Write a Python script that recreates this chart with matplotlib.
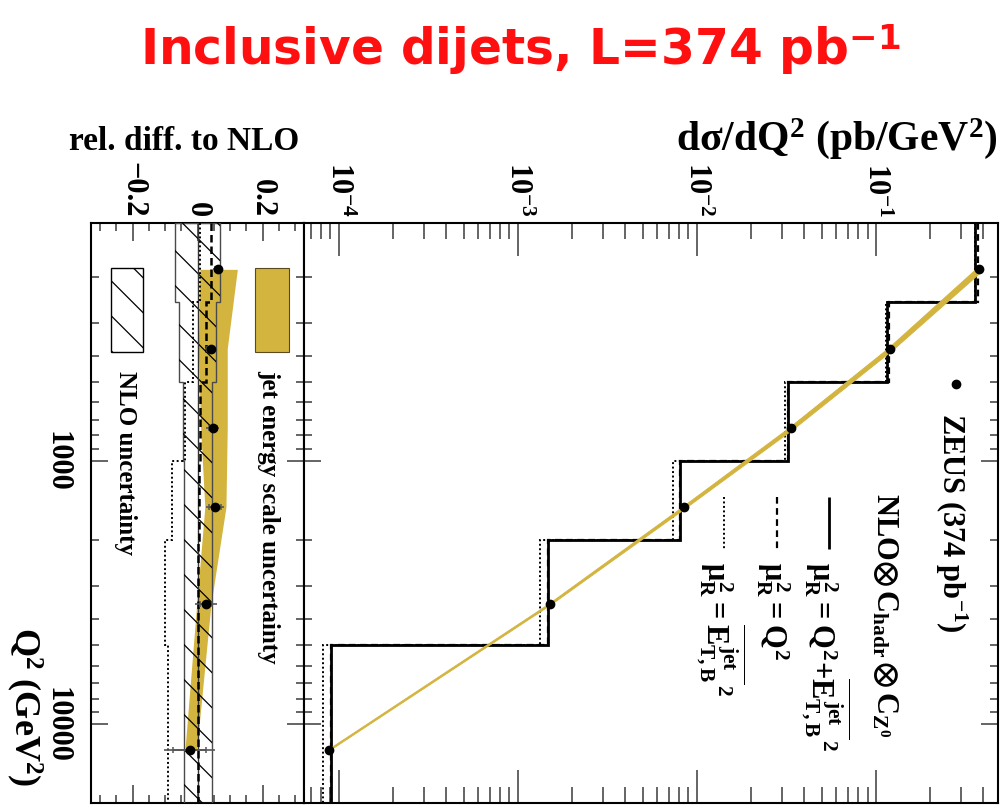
import numpy as np
import matplotlib
matplotlib.use("Agg")
import matplotlib.pyplot as plt
from matplotlib.patches import Polygon, Rectangle
from matplotlib.lines import Line2D
from matplotlib.ticker import FixedLocator, NullFormatter, MultipleLocator, LogLocator

plt.rcParams.update({
    "font.family": ["Liberation Serif", "DejaVu Serif"],
    "font.weight": "bold",
    "mathtext.fontset": "custom",
    "mathtext.rm": "Liberation Serif:bold",
    "mathtext.it": "Liberation Serif:bold",
    "mathtext.bf": "Liberation Serif:bold",
    "mathtext.sf": "DejaVu Sans:bold",
    "mathtext.fallback": "stix",
    "axes.linewidth": 1.5,
})

# ---- data -------------------------------------------------------------
q2_edges = [125, 250, 500, 1000, 2000, 5000, 20000]          # GeV^2
q2_points = [187.5, 375, 750, 1500, 3500, 12500]              # bin centres
xsec_zeus = [0.379, 0.1203, 0.0337, 0.00849, 0.001516, 8.79e-5]   # pb/GeV^2
xsec_nlo = [0.3565, 0.1157, 0.03222, 0.008055, 0.001479, 9.01e-5]
stat_err = [0.008, 0.010, 0.012, 0.018, 0.018, 0.052]          # relative
tot_err = [0.015, 0.018, 0.019, 0.027, 0.033, 0.081]           # relative
scale_q2 = [0.041, 0.027, 0.007, 0.004, 0.002, 0.002]          # mu_R^2 = Q^2
scale_et = [0.007, -0.014, -0.039, -0.080, -0.101, -0.090]     # mu_R^2 = ET^2
nlo_unc_dn = [-0.070, -0.057, -0.044, -0.043, -0.043, -0.043]
nlo_unc_up = [0.069, 0.055, 0.044, 0.043, 0.043, 0.043]
jes_dn = [0.007, 0.002, 0.009, 0.022, -0.003, -0.039]
jes_up = [0.122, 0.091, 0.091, 0.087, 0.041, -0.003]

xsec_ticks = [1e-4, 1e-3, 1e-2, 1e-1]
xsec_ticklabels = [r"$10^{-4}$", r"$10^{-3}$", r"$10^{-2}$", r"$10^{-1}$"]
rel_ticks = [-0.2, 0.0, 0.2]
rel_ticklabels = ["\u22120.2", "0", "0.2"]
q2_ticks = [1000, 10000]
q2_ticklabels = ["1000", "10000"]

GOLD = "#D3B43F"
TICKC = "#3a3a3a"

# ---- figure -------------------------------------------------------------
W, H = 1007, 812
fig = plt.figure(figsize=(W / 100, H / 100), dpi=100)


def box(l, r, t, b):
    return [l / W, 1 - b / H, (r - l) / W, (b - t) / H]


def fxy(x, y):
    return x / W, 1 - y / H


ax_r = fig.add_axes(box(90.7, 304.3, 224, 804.3))
ax_m = fig.add_axes(box(304.3, 998.3, 224, 804.3))

nlo = np.array(xsec_nlo)
data = np.array(xsec_zeus)
ratio = data / nlo
rel = ratio - 1

# ---- main panel: cross section vs Q^2 ------------------------------------
ax_m.set_xscale("log")
ax_m.set_yscale("log")
ax_m.set_xlim(6.43e-5, 0.484)
ax_m.set_ylim(20000, 125)

ax_m.stairs(nlo, q2_edges, orientation="horizontal", baseline=None,
            color="black", lw=2.0, zorder=3)
ax_m.stairs(nlo * (1 + np.array(scale_q2)), q2_edges, orientation="horizontal",
            baseline=None, color="black", lw=1.6, ls=(0, (3, 2)), zorder=3)
ax_m.stairs(nlo * (1 + np.array(scale_et)), q2_edges, orientation="horizontal",
            baseline=None, color="black", lw=1.4, ls=(0, (1, 1.3)), zorder=3)
ax_m.fill_betweenx(q2_points, nlo * (1 + np.array(jes_dn)), nlo * (1 + np.array(jes_up)),
                   color=GOLD, lw=0.6, edgecolor=GOLD, zorder=4)
ax_m.plot(data, q2_points, "o", ms=6, color="black", zorder=6)

ax_m.xaxis.set_major_locator(FixedLocator(xsec_ticks))
ax_m.set_xticks(xsec_ticks, labels=xsec_ticklabels)
ax_m.xaxis.set_minor_locator(LogLocator(base=10, subs=np.arange(2, 10), numticks=30))
ax_m.xaxis.set_minor_formatter(NullFormatter())
ax_m.tick_params(axis="x", which="both", direction="in", top=True, bottom=True,
                 labeltop=True, labelbottom=False, color=TICKC, width=1.1)
ax_m.tick_params(axis="x", which="major", length=23.8, pad=5, labelsize=22,
                 labelrotation=-90)
ax_m.tick_params(axis="x", which="minor", length=11.5)

ax_m.yaxis.set_major_locator(FixedLocator(q2_ticks))
ax_m.yaxis.set_major_formatter(NullFormatter())
ax_m.yaxis.set_minor_locator(LogLocator(base=10, subs=np.arange(2, 10), numticks=30))
ax_m.yaxis.set_minor_formatter(NullFormatter())
ax_m.tick_params(axis="y", which="both", direction="in", left=True, right=True,
                 labelleft=False, color=TICKC, width=1.1)
ax_m.tick_params(axis="y", which="major", length=12.2)
ax_m.tick_params(axis="y", which="minor", length=5.8)

# ---- ratio panel: relative difference to NLO ----------------------------------
ax_r.set_yscale("log")
ax_r.set_ylim(20000, 125)
ax_r.set_xlim(-0.329, 0.328)

ax_r.fill_betweenx(q2_points, jes_dn, jes_up, color=GOLD, lw=0, zorder=1)

band = []
for i in range(len(nlo_unc_dn)):
    band += [(nlo_unc_dn[i], q2_edges[i]), (nlo_unc_dn[i], q2_edges[i + 1])]
for i in reversed(range(len(nlo_unc_up))):
    band += [(nlo_unc_up[i], q2_edges[i + 1]), (nlo_unc_up[i], q2_edges[i])]
band_patch = Polygon(band, closed=True, facecolor="none", edgecolor="#4a4a4a",
                     lw=1.0, zorder=3)
ax_r.add_patch(band_patch)


def hatch(ax, clip, spacing=35.0, phase=7.0, zorder=3):
    """Diagonal hatch lines (upper left to lower right) clipped to a patch."""
    pos = ax.get_position()
    wpx, hpx = pos.width * W, pos.height * H
    n = int((wpx + hpx) / spacing) + 3
    for k in range(n):
        y0 = (k * spacing + phase) / hpx
        ln = Line2D([0, 1], [y0, y0 - wpx / hpx], transform=ax.transAxes,
                    color="black", lw=0.9, zorder=zorder)
        ax.add_line(ln)
        ln.set_clip_path(clip)


hatch(ax_r, band_patch)

zeros = np.zeros(len(nlo))
ax_r.stairs(zeros, q2_edges, orientation="horizontal", baseline=None,
            color="#333333", lw=1.0, zorder=3)
ax_r.stairs(scale_q2, q2_edges, orientation="horizontal", baseline=None,
            color="black", lw=1.8, ls=(0, (3, 1.6)), zorder=4)
ax_r.stairs(scale_et, q2_edges, orientation="horizontal", baseline=None,
            color="black", lw=1.4, ls=(0, (1, 1.3)), zorder=4)

ax_r.errorbar(rel, q2_points, xerr=ratio * np.array(tot_err), fmt="none",
              ecolor="#555555", elinewidth=1.2, capsize=0, zorder=5)
ax_r.errorbar(rel, q2_points, xerr=ratio * np.array(stat_err), fmt="none",
              ecolor="#555555", elinewidth=1.2, capsize=2.5, capthick=1.1, zorder=5)
ax_r.plot(rel, q2_points, "o", ms=6, color="black", zorder=6)

ax_r.set_xticks(rel_ticks, labels=rel_ticklabels)
ax_r.xaxis.set_minor_locator(MultipleLocator(0.05))
ax_r.tick_params(axis="x", which="both", direction="in", top=True, bottom=True,
                 labeltop=True, labelbottom=False, color=TICKC, width=1.1)
ax_r.tick_params(axis="x", which="major", length=12.7, pad=5, labelsize=22,
                 labelrotation=-90)
ax_r.tick_params(axis="x", which="minor", length=5.8)

ax_r.yaxis.set_major_locator(FixedLocator(q2_ticks))
ax_r.set_yticks(q2_ticks, labels=q2_ticklabels)
ax_r.yaxis.set_minor_locator(LogLocator(base=10, subs=np.arange(2, 10), numticks=30))
ax_r.yaxis.set_minor_formatter(NullFormatter())
ax_r.tick_params(axis="y", which="both", direction="in", left=True, right=True,
                 labelleft=True, color=TICKC, width=1.1)
ax_r.tick_params(axis="y", which="major", length=12.0, pad=13.7, labelsize=22,
                 labelrotation=-90)
ax_r.tick_params(axis="y", which="minor", length=6.0)
for lbl in ax_r.get_yticklabels():
    lbl.set_verticalalignment("center")


# legend of the ratio panel
def ax_frac(ax, x, y):
    pos = ax.get_position()
    return ((x / W - pos.x0) / pos.width, ((1 - y / H) - pos.y0) / pos.height)


x0, y0 = ax_frac(ax_r, 255, 353.4)
x1, y1 = ax_frac(ax_r, 289.3, 268.9)
ax_r.add_patch(Rectangle((x0, y0), x1 - x0, y1 - y0, transform=ax_r.transAxes,
                         facecolor=GOLD, edgecolor="#5a4a20", lw=0.8, zorder=5))
x0, y0 = ax_frac(ax_r, 110.7, 353.4)
x1, y1 = ax_frac(ax_r, 143.3, 268.9)
hbox = Rectangle((x0, y0), x1 - x0, y1 - y0, transform=ax_r.transAxes,
                 facecolor="white", edgecolor="black", lw=1.0, zorder=5)
ax_r.add_patch(hbox)
hatch(ax_r, hbox, phase=18.0, zorder=6)

fig.text(*fxy(269, 370), "jet energy scale uncertainty", rotation=-90,
         ha="center", va="top", fontsize=18)
fig.text(*fxy(125, 371), "NLO uncertainty", rotation=-90,
         ha="center", va="top", fontsize=18)

# ---- legend of the main panel ---------------------------------------------------
fig.add_artist(Line2D([956 / W], [1 - 385 / H], marker="o", ms=6, color="black"))
fig.text(*fxy(951, 413), r"ZEUS (374 pb$^{-1}$)", rotation=-90,
         ha="center", va="top", fontsize=22)
fig.text(*fxy(884, 493),
         r"$\mathrm{NLO}{\otimes}\,\mathrm{C}_{\mathrm{hadr}}\,{\otimes}\,\mathrm{C}_{\mathrm{Z^{0}}}$",
         rotation=-90, ha="center", va="top", fontsize=22)

entries = [
    (829, (0, ()), 2.0, r"$\mu_{R}^{2}{=}Q^{2}{+}\overline{E_{T,B}^{jet}}^{\,2}$"),
    (777, (0, (3, 2)), 1.6, r"$\mu_{R}^{2}{=}Q^{2}$"),
    (724, (0, (1, 1.3)), 1.4, r"$\mu_{R}^{2}{=}\overline{E_{T,B}^{jet}}^{\,2}$"),
]
for xc, ls, lw, label in entries:
    fig.add_artist(Line2D([xc / W, xc / W], [1 - 498 / H, 1 - 550 / H],
                          color="black", lw=lw, ls=ls))
    fig.text(*fxy(xc - 4, 561.7), label, rotation=-90, ha="center", va="top",
             fontsize=22)

# ---- axis titles ------------------------------------------------------------
fig.text(*fxy(998, 150), r"d$\sigma$/dQ$^{2}$ (pb/GeV$^{2}$)", ha="right",
         va="baseline", fontsize=30)
fig.text(*fxy(69, 150), "rel. diff. to NLO", ha="left", va="baseline", fontsize=24)
fig.text(*fxy(24, 627), r"Q$^{2}$ (GeV$^{2}$)", rotation=-90, ha="center",
         va="top", fontsize=26)

fig.text(*fxy(140, 65), r"Inclusive dijets, L=374 pb$^{\mathsf{-1}}$",
         ha="left", va="baseline", fontsize=35, color="#FF1010",
         family="DejaVu Sans", weight="bold")

fig.savefig("out.png", dpi=100)
